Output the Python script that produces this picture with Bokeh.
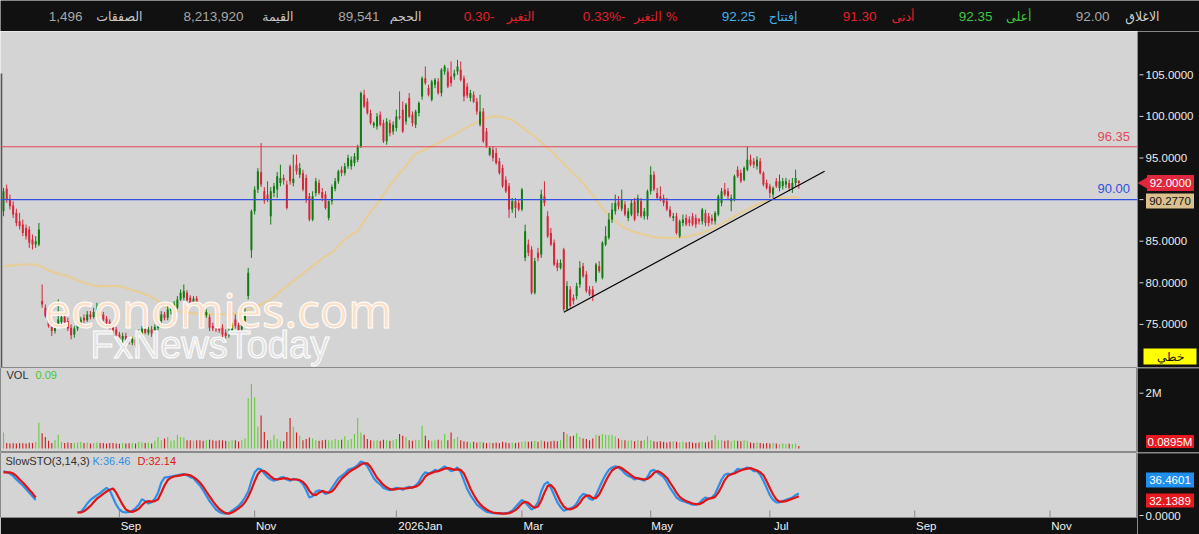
import numpy as np
from bokeh.plotting import figure
from bokeh.models import Range1d, FixedTicker, Span
from bokeh.layouts import column, row
from bokeh.embed import file_html
from bokeh.resources import INLINE
from bokeh.core.properties import value

# ---------------- data ----------------
opens = [
    88.6, 91.3, 90.1, 89.3, 88.4, 87.4, 87.0, 86.6, 86.4, 85.2,
    84.6, 84.6, 77.8, 77.0, 76.3, 75.0, 74.2, 74.9, 75.3, 75.9,
    75.4, 74.6, 73.8, 74.5, 75.0, 75.8, 75.5, 76.2, 75.9, 76.4,
    76.8, 76.2, 75.7, 75.3, 74.8, 74.4, 73.8, 73.2, 73.6, 73.3,
    72.8, 73.2, 72.6, 73.9, 74.5, 74.0, 74.4, 73.9, 74.6, 75.4,
    76.2, 75.8, 76.6, 76.9, 77.0, 78.0, 78.2, 78.8, 78.2, 77.6,
    78.1, 77.4, 76.8, 76.1, 75.9, 74.8, 74.7, 74.6, 74.6, 74.0,
    73.7, 74.3, 75.6, 74.9, 74.4, 75.4, 78.4, 83.9, 88.6, 91.2,
    93.3, 91.0, 90.6, 88.0, 90.8, 91.2, 92.0, 92.6, 91.8, 94.0,
    92.0, 94.2, 93.0, 93.2, 92.6, 90.4, 87.6, 90.8, 92.0, 90.9,
    90.6, 87.8, 89.8, 91.3, 92.2, 93.6, 93.2, 94.0, 94.0, 94.4,
    94.8, 96.4, 102.6, 101.8, 100.4, 98.9, 98.8, 100.2, 99.2, 97.0,
    99.2, 98.2, 98.6, 100.0, 100.8, 99.4, 102.2, 100.2, 99.0, 100.4,
    102.4, 104.6, 103.4, 102.0, 103.8, 104.2, 102.8, 105.4, 105.4, 104.8,
    104.8, 105.4, 105.6, 104.6, 103.6, 102.2, 102.6, 101.8, 99.0, 100.6,
    98.2, 95.4, 96.0, 95.6, 94.6, 93.8, 92.4, 91.6, 88.8, 89.8,
    89.6, 88.8, 83.0, 84.6, 84.0, 78.8, 83.6, 83.4, 90.4, 88.0,
    86.0, 84.8, 82.4, 81.8, 84.0, 76.8, 79.2, 78.2, 78.4, 79.8,
    82.0, 81.0, 79.2, 79.2, 80.2, 82.0, 80.6, 84.6, 85.4, 87.6,
    88.6, 89.8, 88.9, 89.4, 87.8, 88.2, 89.8, 88.4, 89.8, 88.0,
    88.0, 91.0, 93.0, 90.8, 90.4, 90.2, 89.8, 88.8, 87.8, 88.0,
    85.6, 87.2, 87.8, 87.6, 88.0, 87.8, 87.6, 87.4, 88.4, 88.0,
    87.8, 87.4, 88.2, 89.6, 91.2, 91.0, 89.8, 90.0, 93.6, 93.2,
    92.4, 93.6, 94.8, 94.6, 94.0, 94.6, 93.2, 92.0, 91.6, 90.6,
    92.2, 91.4, 91.6, 91.8, 92.0, 91.4, 92.0, 92.25,
]
highs = [
    91.4, 91.8, 90.6, 89.8, 88.9, 88.4, 87.6, 87.0, 86.8, 85.8,
    85.6, 87.2, 79.8, 77.4, 76.6, 75.4, 75.2, 78.0, 76.2, 76.3,
    75.8, 75.0, 74.8, 75.4, 75.9, 76.2, 76.6, 76.6, 77.0, 77.6,
    77.2, 76.5, 76.0, 75.6, 75.2, 74.7, 74.1, 74.0, 74.0, 73.6,
    73.6, 73.5, 74.4, 74.8, 74.9, 74.7, 74.8, 75.0, 75.8, 76.6,
    76.5, 77.2, 77.4, 77.8, 78.4, 79.2, 79.8, 79.1, 78.5, 78.4,
    78.4, 77.6, 77.1, 76.8, 76.2, 75.2, 75.0, 74.9, 75.0, 74.4,
    74.6, 75.2, 76.2, 75.2, 75.8, 77.0, 81.8, 88.8, 91.6, 93.8,
    96.8, 91.5, 92.2, 91.5, 92.0, 93.3, 94.2, 93.0, 92.3, 94.2,
    95.4, 95.4, 94.4, 93.6, 93.0, 90.8, 91.0, 92.6, 92.4, 91.4,
    91.0, 89.9, 91.8, 92.6, 93.6, 94.0, 94.4, 95.4, 95.2, 95.6,
    96.6, 103.0, 103.2, 102.2, 100.8, 99.4, 100.4, 100.6, 99.6, 99.8,
    99.6, 99.4, 100.8, 103.0, 101.8, 101.6, 102.8, 100.6, 100.8, 101.8,
    104.8, 106.0, 103.8, 104.4, 104.6, 104.6, 105.8, 106.2, 105.8, 106.6,
    105.6, 106.8, 106.6, 104.9, 104.0, 103.2, 103.0, 102.2, 102.6, 101.0,
    98.6, 96.4, 96.4, 96.2, 95.0, 94.2, 92.8, 92.0, 90.2, 90.2,
    90.0, 91.4, 87.0, 85.2, 84.4, 83.0, 84.2, 91.2, 92.2, 88.6,
    86.6, 85.2, 82.8, 82.8, 84.2, 80.2, 79.6, 78.6, 80.0, 82.6,
    82.4, 81.4, 79.6, 79.6, 82.4, 82.6, 85.0, 86.8, 88.4, 89.6,
    90.6, 90.4, 91.2, 89.8, 89.0, 90.0, 90.2, 90.6, 90.2, 89.0,
    91.2, 94.0, 93.4, 91.4, 91.6, 90.6, 90.2, 89.2, 88.4, 88.4,
    87.6, 88.2, 88.2, 88.0, 88.4, 88.2, 87.8, 89.0, 88.8, 88.4,
    88.2, 88.6, 90.6, 91.4, 92.0, 91.4, 90.6, 93.0, 94.0, 93.6,
    94.0, 96.4, 95.4, 95.0, 95.2, 95.0, 93.4, 92.4, 91.9, 91.6,
    92.6, 93.0, 92.6, 92.6, 92.4, 92.6, 93.6, 92.35,
]
lows = [
    88.0, 89.6, 88.8, 87.8, 86.8, 86.4, 85.6, 85.2, 84.2, 84.0,
    84.2, 84.4, 77.0, 75.8, 74.6, 73.6, 73.9, 74.6, 75.0, 75.0,
    74.2, 73.2, 73.4, 74.2, 74.7, 75.2, 75.3, 75.6, 75.7, 76.0,
    75.9, 75.4, 74.9, 74.4, 74.0, 73.5, 72.9, 72.8, 73.0, 72.6,
    72.5, 72.2, 72.4, 73.6, 73.8, 73.7, 73.5, 73.6, 74.3, 75.0,
    75.5, 75.5, 76.2, 76.5, 76.8, 77.8, 77.9, 77.6, 77.2, 77.2,
    77.4, 76.4, 75.9, 75.8, 74.2, 74.2, 74.1, 74.0, 73.2, 73.3,
    73.4, 74.0, 74.5, 74.0, 74.2, 75.0, 78.0, 83.0, 88.2, 90.8,
    91.5, 89.5, 89.7, 87.0, 90.3, 90.2, 91.6, 91.8, 88.8, 91.8,
    91.6, 93.0, 92.6, 91.0, 89.6, 87.4, 87.4, 90.4, 90.6, 89.8,
    88.8, 87.5, 89.4, 91.0, 91.9, 92.8, 92.9, 93.7, 93.6, 94.0,
    94.5, 96.2, 101.0, 100.2, 99.0, 98.6, 98.4, 98.8, 96.8, 96.6,
    97.6, 97.8, 98.2, 99.6, 98.0, 99.0, 99.8, 98.8, 98.6, 100.0,
    102.0, 103.8, 102.4, 101.8, 103.4, 102.6, 102.4, 105.0, 103.4, 103.6,
    104.4, 105.0, 104.2, 101.8, 102.2, 101.8, 101.6, 100.2, 98.8, 96.8,
    96.2, 95.2, 94.6, 94.2, 93.0, 91.4, 90.8, 87.8, 88.4, 87.8,
    88.6, 88.6, 82.6, 83.2, 78.6, 78.6, 82.6, 83.0, 89.2, 85.4,
    84.4, 82.0, 81.4, 81.6, 76.6, 76.6, 77.0, 77.4, 78.0, 79.4,
    80.6, 78.8, 78.4, 77.8, 80.0, 81.2, 80.4, 84.4, 85.2, 87.2,
    88.2, 88.8, 88.6, 88.0, 87.4, 88.0, 87.4, 88.0, 87.8, 87.6,
    87.6, 90.6, 91.0, 90.0, 89.8, 89.2, 88.6, 87.8, 87.4, 85.8,
    85.4, 86.8, 86.8, 86.8, 86.8, 86.6, 87.0, 87.0, 86.8, 86.8,
    87.0, 87.0, 88.0, 89.2, 90.4, 90.0, 88.6, 89.8, 92.6, 92.0,
    92.2, 93.4, 94.0, 93.8, 93.6, 93.0, 91.6, 91.2, 90.2, 90.2,
    91.4, 91.0, 91.2, 91.4, 91.0, 90.8, 91.6, 91.30,
]
closes = [
    91.0, 90.0, 89.2, 88.2, 87.2, 86.8, 86.0, 85.6, 84.8, 84.6,
    85.0, 86.4, 77.4, 76.0, 74.8, 74.2, 74.9, 75.6, 75.9, 75.3,
    74.5, 73.7, 74.5, 75.1, 75.6, 75.5, 76.2, 75.9, 76.5, 76.9,
    76.1, 75.6, 75.2, 74.6, 74.3, 73.8, 73.2, 73.6, 73.2, 72.9,
    73.3, 72.5, 74.1, 74.5, 74.0, 74.4, 73.9, 74.7, 75.4, 76.2,
    75.8, 76.8, 77.0, 77.4, 78.0, 78.8, 79.0, 77.9, 77.5, 78.1,
    77.7, 76.7, 76.2, 76.5, 74.6, 74.5, 74.4, 74.3, 73.8, 73.6,
    74.3, 74.9, 74.8, 74.3, 75.4, 76.6, 81.2, 88.6, 91.2, 93.4,
    91.8, 89.9, 90.0, 91.0, 91.6, 92.8, 92.6, 92.3, 89.0, 92.2,
    92.5, 93.4, 93.8, 91.2, 90.0, 87.6, 90.4, 92.2, 90.8, 90.2,
    89.0, 89.8, 91.5, 92.2, 93.4, 93.2, 94.0, 95.0, 94.8, 95.2,
    96.4, 102.8, 101.2, 100.4, 99.2, 99.2, 100.0, 99.0, 97.0, 99.4,
    98.0, 99.0, 100.0, 99.8, 98.2, 101.4, 100.0, 99.2, 100.6, 101.6,
    104.6, 104.0, 102.6, 104.2, 104.4, 102.8, 105.6, 106.0, 103.6, 104.0,
    105.2, 106.0, 104.4, 102.4, 102.5, 102.8, 101.8, 100.6, 100.6, 97.0,
    96.4, 96.2, 95.0, 94.4, 93.2, 91.6, 91.0, 88.8, 89.8, 89.0,
    88.8, 91.2, 86.2, 83.6, 78.8, 82.6, 83.0, 90.6, 89.6, 85.6,
    84.6, 82.2, 81.8, 82.4, 76.8, 79.6, 77.2, 77.8, 79.6, 81.8,
    80.8, 79.0, 78.6, 78.4, 82.2, 81.4, 84.8, 85.6, 87.6, 88.8,
    89.6, 89.2, 90.0, 88.2, 88.6, 89.6, 87.6, 90.2, 88.0, 88.6,
    91.0, 93.0, 91.2, 90.2, 90.0, 89.6, 88.8, 88.0, 88.0, 86.0,
    87.4, 87.6, 87.0, 87.2, 87.0, 87.0, 87.4, 88.8, 87.2, 87.2,
    87.4, 88.4, 90.4, 91.0, 90.6, 90.4, 90.2, 92.8, 92.8, 92.2,
    93.8, 94.8, 94.2, 94.2, 94.8, 93.2, 91.8, 91.4, 90.8, 91.4,
    91.6, 92.2, 92.2, 92.2, 91.4, 92.0, 92.6, 92.00,
]
volume_m = [
    0.58, 0.20, 0.18, 0.19, 0.18, 0.20, 0.19, 0.18, 0.21, 0.20,
    0.24, 0.93, 0.55, 0.42, 0.28, 0.20, 0.30, 0.50, 0.24, 0.20,
    0.22, 0.20, 0.20, 0.22, 0.24, 0.20, 0.22, 0.18, 0.20, 0.22,
    0.20, 0.20, 0.18, 0.20, 0.20, 0.18, 0.17, 0.20, 0.18, 0.19,
    0.20, 0.18, 0.24, 0.22, 0.20, 0.22, 0.18, 0.28, 0.42, 0.30,
    0.36, 0.42, 0.28, 0.30, 0.50, 0.42, 0.40, 0.30, 0.30, 0.28,
    0.30, 0.30, 0.28, 0.30, 0.32, 0.30, 0.28, 0.30, 0.30, 0.28,
    0.26, 0.30, 0.30, 0.25, 0.30, 0.36, 1.82, 2.33, 1.85, 0.80,
    1.19, 0.60, 0.30, 0.32, 0.50, 0.34, 0.28, 0.26, 0.60, 1.10,
    0.79, 0.58, 0.46, 0.30, 0.34, 0.40, 0.36, 0.30, 0.28, 0.30,
    0.32, 0.30, 0.30, 0.34, 0.30, 0.32, 0.44, 0.30, 0.34, 0.52,
    1.10, 0.58, 0.50, 0.34, 0.30, 0.28, 0.30, 0.28, 0.32, 0.30,
    0.28, 0.30, 0.34, 0.52, 0.46, 0.42, 0.30, 0.28, 0.32, 0.30,
    0.82, 0.46, 0.30, 0.28, 0.30, 0.32, 0.30, 0.52, 0.30, 0.58,
    0.34, 0.42, 0.30, 0.26, 0.24, 0.22, 0.24, 0.22, 0.24, 0.22,
    0.20, 0.22, 0.20, 0.22, 0.20, 0.24, 0.22, 0.20, 0.22, 0.20,
    0.22, 0.24, 0.26, 0.24, 0.26, 0.28, 0.24, 0.30, 0.26, 0.24,
    0.26, 0.28, 0.26, 0.30, 0.60, 0.52, 0.44, 0.46, 0.55, 0.42,
    0.36, 0.34, 0.30, 0.36, 0.50, 0.46, 0.52, 0.50, 0.48, 0.50,
    0.44, 0.36, 0.32, 0.30, 0.28, 0.30, 0.26, 0.30, 0.28, 0.30,
    0.44, 0.30, 0.26, 0.24, 0.26, 0.24, 0.22, 0.24, 0.26, 0.24,
    0.22, 0.24, 0.22, 0.24, 0.22, 0.20, 0.22, 0.24, 0.22, 0.24,
    0.30, 0.48, 0.30, 0.32, 0.28, 0.30, 0.26, 0.30, 0.28, 0.26,
    0.30, 0.28, 0.22, 0.20, 0.22, 0.20, 0.18, 0.20, 0.18, 0.20,
    0.18, 0.16, 0.18, 0.16, 0.17, 0.16, 0.18, 0.0895,
]
ma_line = [
    82.0, 82.0, 82.1, 82.1, 82.1, 82.2, 82.2, 82.2, 82.2, 82.2,
    82.2, 82.1, 81.9, 81.7, 81.5, 81.4, 81.2, 81.1, 81.0, 80.9,
    80.8, 80.6, 80.5, 80.3, 80.2, 80.0, 79.9, 79.8, 79.7, 79.6,
    79.6, 79.6, 79.6, 79.6, 79.6, 79.6, 79.6, 79.5, 79.4, 79.3,
    79.1, 79.0, 78.9, 78.8, 78.6, 78.5, 78.3, 78.1, 77.8, 77.5,
    77.2, 77.0, 76.8, 76.7, 76.6, 76.5, 76.5, 76.4, 76.4, 76.3,
    76.3, 76.3, 76.2, 76.2, 76.2, 76.2, 76.2, 76.2, 76.2, 76.2,
    76.2, 76.3, 76.3, 76.4, 76.5, 76.6, 76.7, 76.9, 77.0, 77.2,
    77.4, 77.6, 77.8, 78.0, 78.3, 78.6, 79.0, 79.3, 79.6, 79.9,
    80.2, 80.5, 80.8, 81.1, 81.4, 81.7, 82.0, 82.3, 82.6, 82.9,
    83.2, 83.4, 83.6, 84.0, 84.4, 84.8, 85.2, 85.5, 85.8, 86.0,
    86.2, 86.8, 87.4, 88.0, 88.5, 89.0, 89.5, 90.0, 90.6, 91.1,
    91.7, 92.2, 92.7, 93.2, 93.6, 94.0, 94.5, 95.0, 95.5, 95.7,
    95.9, 96.0, 96.2, 96.4, 96.6, 96.8, 97.0, 97.2, 97.4, 97.6,
    97.8, 98.0, 98.3, 98.5, 98.7, 98.9, 99.1, 99.3, 99.5, 99.7,
    99.8, 99.9, 100.0, 100.0, 100.0, 99.9, 99.8, 99.7, 99.6, 99.3,
    99.0, 98.7, 98.4, 98.1, 97.9, 97.6, 97.2, 96.9, 96.5, 96.2,
    95.9, 95.5, 95.1, 94.7, 94.3, 93.9, 93.5, 93.1, 92.8, 92.4,
    92.0, 91.5, 91.0, 90.5, 90.0, 89.5, 89.0, 88.5, 88.1, 87.7,
    87.4, 87.1, 86.8, 86.6, 86.4, 86.2, 86.1, 86.0, 85.9, 85.8,
    85.7, 85.6, 85.5, 85.5, 85.4, 85.4, 85.4, 85.4, 85.4, 85.4,
    85.5, 85.5, 85.5, 85.6, 85.7, 85.8, 85.9, 86.0, 86.2, 86.3,
    86.5, 86.7, 86.9, 87.1, 87.3, 87.5, 87.8, 88.0, 88.2, 88.4,
    88.6, 88.8, 89.0, 89.2, 89.4, 89.6, 89.7, 89.9, 90.0, 90.1,
    90.1, 90.2, 90.2, 90.2, 90.2, 90.3, 90.3, 90.277,
]
sto_k = [
    74, 72, 70, 66, 60, 55, 50, 44, 38, 32,
    26, None, None, None, None, None, None, None, None, None,
    None, None, None, 5, 6, 12, 20, 26, 30, 34,
    37, 42, 46, 42, 30, 18, 10, 6, 5, 6,
    8, 12, 18, 27, 24, 20, 22, 28, 38, 55,
    63, 64, 65, 66, 67, 68, 69, 67, 64, 62,
    56, 50, 42, 33, 24, 17, 10, 6, 4, 3,
    4, 8, 12, 16, 22, 30, 40, 58, 72, 78,
    77, 70, 64, 60, 58, 60, 63, 64, 60, 58,
    61, 60, 58, 52, 42, 30, 32, 40, 42, 40,
    36, 38, 46, 54, 62, 66, 70, 76, 78, 80,
    84, 90, 88, 82, 72, 62, 56, 52, 46, 44,
    42, 44, 46, 45, 43, 46, 48, 46, 50, 56,
    66, 72, 70, 72, 76, 74, 78, 82, 78, 74,
    76, 80, 72, 58, 44, 34, 26, 18, 14, 10,
    6, 5, 4, 4, 3, 3, 4, 5, 8, 14,
    20, 26, 22, 16, 10, 14, 22, 40, 52, 56,
    46, 34, 22, 14, 8, 10, 12, 14, 20, 30,
    36, 34, 28, 26, 34, 46, 58, 68, 76, 80,
    82, 80, 76, 70, 66, 64, 60, 62, 60, 58,
    64, 74, 76, 72, 68, 64, 56, 46, 38, 30,
    26, 24, 22, 20, 18, 18, 20, 26, 30, 28,
    30, 36, 48, 60, 68, 70, 68, 72, 78, 76,
    78, 80, 78, 74, 74, 68, 58, 46, 34, 26,
    22, 22, 24, 26, 28, 30, 34, 36.46,
]
sto_d = [
    72, 72, 72, 70, 66, 60, 55, 49, 43, 37,
    30, None, None, None, None, None, None, None, None, None,
    None, None, None, 5, 5, 7, 11, 16, 22, 28,
    32, 36, 40, 43, 45, 38, 28, 18, 10, 7,
    6, 8, 11, 17, 22, 24, 23, 24, 27, 38,
    50, 59, 63, 65, 66, 67, 68, 68, 67, 64,
    60, 55, 48, 40, 32, 24, 17, 11, 7, 4,
    3, 5, 8, 12, 16, 22, 31, 43, 57, 69,
    75, 74, 70, 65, 61, 60, 61, 62, 62, 60,
    60, 60, 59, 56, 50, 41, 35, 34, 38, 41,
    39, 38, 40, 46, 54, 61, 66, 71, 75, 78,
    81, 85, 87, 87, 81, 72, 63, 57, 51, 47,
    44, 43, 44, 45, 45, 45, 46, 47, 48, 51,
    57, 65, 69, 71, 73, 74, 76, 78, 79, 78,
    76, 77, 76, 70, 58, 45, 35, 26, 19, 14,
    10, 7, 5, 4, 4, 3, 3, 4, 6, 9,
    14, 20, 23, 21, 16, 13, 15, 25, 38, 49,
    51, 45, 34, 23, 15, 11, 10, 12, 15, 21,
    29, 33, 33, 29, 29, 35, 46, 57, 67, 75,
    79, 81, 79, 75, 71, 67, 63, 62, 61, 60,
    61, 65, 71, 74, 72, 68, 63, 55, 47, 38,
    31, 27, 24, 22, 20, 19, 19, 21, 25, 28,
    29, 31, 38, 48, 59, 66, 69, 70, 73, 75,
    77, 78, 79, 77, 75, 72, 67, 57, 46, 35,
    27, 23, 23, 24, 26, 28, 30, 32.14,
]
month_ticks = [36, 78, 122, 161, 201, 238, 283, 325]
month_labels = ["Sep", "Nov", "2026Jan", "Mar", "May", "Jul", "Sep", "Nov"]
price_ticks = [75, 80, 85, 90, 95, 100, 105]
resistance = 96.35
support = 90.00
trend_x = [174, 255]
trend_y = [76.45, 93.4]
last_close, last_ma, last_vol, last_k, last_d = 92.0, 90.2770, 0.0895, 36.4601, 32.1389

hdr_labels = ["الاغلاق", "أعلى", "أدنى", "إفتتاح", "التغير %", "التغير", "الحجم", "القيمة", "الصفقات"]
hdr_values = ["92.00", "92.35", "91.30", "92.25", "\u200f-0.33%", "\u200f-0.30", "89,541", "8,213,920", "1,496"]

# ---------------- styling / geometry ----------------
FONT = "Liberation Sans"
BG = "#d4d4d4"
DARK = "#111111"
GREEN = "#0f7d12"
RED = "#d6263a"
VGREEN = "#62cf36"
VRED = "#d21a1a"

BAR_PX = 3.22
X0 = -0.93
FRAME_W = 1137
SIDE_W = 62


def px2i(px):
    return X0 + px / BAR_PX


def price_at(py):
    return 105 - (py - 74.3) / 8.32


def vol_at(py):
    return (448 - py) / 27.65


def sto_at(py):
    return (515 - py) / 0.6


xr = Range1d(X0, px2i(FRAME_W))

N = len(closes)
idx = np.arange(N)
o = np.array(opens, dtype=float)
h = np.array(highs, dtype=float)
l = np.array(lows, dtype=float)
c = np.array(closes, dtype=float)
up = c >= o
ccol = np.where(up, GREEN, RED).tolist()
vcol = np.where(up, VGREEN, VRED).tolist()
k_arr = np.array([np.nan if v is None else v for v in sto_k], dtype=float)
d_arr = np.array([np.nan if v is None else v for v in sto_d], dtype=float)


def main_panel(fh, yr, bottom=0, xaxis=False):
    f = figure(frame_width=FRAME_W, frame_height=fh, x_range=xr, y_range=yr,
               toolbar_location=None, output_backend="svg", y_axis_location=None,
               x_axis_location="below" if xaxis else None,
               min_border_left=0, min_border_right=0, min_border_top=0, min_border_bottom=bottom,
               background_fill_color=BG, border_fill_color=DARK)
    f.grid.visible = False
    return f


def side_panel(fh, yr, sep_at=None):
    f = figure(frame_width=SIDE_W, frame_height=fh, x_range=Range1d(0, SIDE_W), y_range=yr,
               toolbar_location=None, output_backend="svg", x_axis_location=None,
               y_axis_location=None, min_border=0,
               background_fill_color=DARK, border_fill_color=DARK, outline_line_color=None)
    f.grid.visible = False
    if sep_at is not None:
        f.add_layout(Span(location=sep_at, dimension="width", line_color="#8a8a8a", line_width=2))
    return f


def side_ticks(f, ticks, labels):
    f.segment(x0=[2] * len(ticks), y0=ticks, x1=[6] * len(ticks), y1=ticks,
              line_color="#d8d8d8", line_width=1)
    f.text(x=[8] * len(ticks), y=ticks, text=labels, text_align="left", text_baseline="middle",
           text_color="#ececec", text_font=value(FONT), text_font_size="11.5px")


def tag(f, y, text, bg, fg="white", w=48, hgt=15, cx=32.5):
    f.rect(x=[cx], y=[y], width=w, height=hgt, width_units="screen", height_units="screen",
           fill_color=bg, line_color=None)
    f.text(x=[cx], y=[y], text=[text], text_align="center", text_baseline="middle",
           text_color=fg, text_font=value(FONT), text_font_size="11.5px")


# ---------------- header bar ----------------
top = figure(width=1199, height=31, x_range=Range1d(0, 1199), y_range=Range1d(0, 31),
             toolbar_location=None, output_backend="svg", x_axis_location=None,
             y_axis_location=None, min_border=0, background_fill_color=DARK,
             border_fill_color=DARK, outline_line_color=None)
top.grid.visible = False
lab_right = [1159, 1031, 914, 797, 677, 534, 421, 293, 142]
val_right = [1109, 992, 876, 755, 625, 494, 379, 243, 82]
lab_col = ["#d0d0d0", "#3ec43e", "#e0202a", "#45b2ea", "#e0202a", "#e0202a", "#c8c8c8", "#c8c8c8", "#c8c8c8"]
val_col = ["#a8a8a8", "#3ec43e", "#e0202a", "#45b2ea", "#e0202a", "#e0202a", "#a8a8a8", "#a8a8a8", "#a8a8a8"]
top.text(x=lab_right, y=[15] * 9, text=hdr_labels, text_align="right", text_baseline="middle",
         text_color=lab_col, text_font=value("DejaVu Sans"), text_font_size="12.5px")
top.text(x=val_right, y=[15] * 9, text=hdr_values, text_align="right", text_baseline="middle",
         text_color=val_col, text_font=value(FONT), text_font_size="13.5px")

# ---------------- price panel ----------------
pyr = Range1d(price_at(367), price_at(31))
p = main_panel(336, pyr)
p.outline_line_color = None

p.line(idx, ma_line, line_color="#e8cc94", line_width=2.2, line_alpha=0.95)
p.add_layout(Span(location=resistance, dimension="width", line_color="#e2475a", line_width=1.2))
p.add_layout(Span(location=support, dimension="width", line_color="#2f50e0", line_width=1.2))
p.segment(x0=idx, y0=l, x1=idx, y1=h, line_color=ccol, line_width=1)
p.vbar(x=idx, width=0.62, top=np.maximum(o, c), bottom=np.minimum(o, c),
       fill_color=ccol, line_color=None)
p.line(trend_x, trend_y, line_color="black", line_width=1.2)
p.segment(x0=[px2i(0.8)], y0=[price_at(73)], x1=[px2i(0.8)], y1=[price_at(367)],
          line_color="#555555", line_width=2)

p.text(x=[px2i(1097)], y=[price_at(136)], text=[f"{resistance:.2f}"], text_color="#e2475a",
       text_font=value(FONT), text_font_size="13px", text_baseline="middle")
p.text(x=[px2i(1097)], y=[price_at(188)], text=[f"{support:.2f}"], text_color="#2f50e0",
       text_font=value(FONT), text_font_size="13px", text_baseline="middle")

# watermark
p.text(x=[px2i(44)], y=[price_at(309)], text=["economies.com"], text_color="#fde0c8",
       text_outline_color="white", text_font=value("Noto Sans"), text_font_size="47px",
       text_baseline="middle")
p.text(x=[px2i(90)], y=[price_at(344)], text=["FxNewsToday"], text_color="#e2e2e2",
       text_outline_color="white", text_font=value(FONT), text_font_size="38px",
       text_baseline="middle")

ps = side_panel(336, pyr)
side_ticks(ps, price_ticks, [f"{t:.4f}" for t in price_ticks])
ps.scatter(x=[7], y=[last_close], marker="triangle", size=12, angle=np.pi / 2,
           fill_color="#e0283c", line_color=None)
tag(ps, last_close, f"{last_close:.4f}", "#e0283c", w=47, hgt=16, cx=33)
tag(ps, price_at(200.5), f"{last_ma:.4f}", "#d9c08e", fg="#111111")
tag(ps, price_at(356), "خطي", "#ffff00", fg="#111111", w=53, hgt=16, cx=32.5)

# ---------------- volume panel ----------------
vyr = Range1d(vol_at(452), vol_at(367))
v = main_panel(85, vyr)
v.outline_line_color = "#8a8a8a"
v.vbar(x=idx, width=0.34, top=volume_m, bottom=0, fill_color=vcol, line_color=None)
v.text(x=[px2i(6)], y=[vol_at(374)], text=["VOL"], text_color="#303030",
       text_font=value(FONT), text_font_size="11px", text_baseline="middle")
v.text(x=[px2i(35)], y=[vol_at(374)], text=[f"{last_vol:.2f}"], text_color="#4cc72c",
       text_font=value(FONT), text_font_size="11px", text_baseline="middle")

vs = side_panel(85, vyr, sep_at=vyr.end)
side_ticks(vs, [2], ["2M"])
tag(vs, vol_at(441), f"{last_vol:.4f}M", "#e8191e", hgt=13)

# ---------------- stochastic panel ----------------
syr = Range1d(sto_at(517), sto_at(452))
s = main_panel(65, syr, bottom=17, xaxis=True)
s.outline_line_color = "#8a8a8a"
s.line(idx, k_arr, line_color="#2f8fe8", line_width=2.2)
s.line(idx, d_arr, line_color="#e01414", line_width=2.2)
s.text(x=[px2i(5)], y=[sto_at(460)], text=["SlowSTO(3,14,3)"], text_color="#303030",
       text_font=value(FONT), text_font_size="11px", text_baseline="middle")
s.text(x=[px2i(92)], y=[sto_at(460)], text=[f"K:{last_k:.2f}"], text_color="#2f8fe8",
       text_font=value(FONT), text_font_size="11px", text_baseline="middle")
s.text(x=[px2i(137)], y=[sto_at(460)], text=[f"D:{last_d:.2f}"], text_color="#e01414",
       text_font=value(FONT), text_font_size="11px", text_baseline="middle")

# month-start tick marks (inside the panel), labels written just right of them
s.segment(x0=month_ticks, y0=[syr.start] * len(month_ticks), x1=month_ticks,
          y1=[sto_at(510)] * len(month_ticks), line_color="#8a8a8a", line_width=1)
CHAR_PX = 6.3
label_pos = [t + (2 + len(lab) * CHAR_PX / 2) / BAR_PX for t, lab in zip(month_ticks, month_labels)]
xa = s.xaxis[0]
xa.ticker = FixedTicker(ticks=label_pos)
xa.major_label_overrides = {pos: lab for pos, lab in zip(label_pos, month_labels)}
xa.axis_line_color = None
xa.major_tick_line_color = None
xa.major_tick_in = 0
xa.major_tick_out = 0
xa.minor_tick_line_color = None
xa.minor_tick_in = 0
xa.minor_tick_out = 0
xa.major_label_text_color = "#f2f2f2"
xa.major_label_text_font = FONT
xa.major_label_text_font_size = "11.5px"
xa.major_label_standoff = 2

# side of the stochastic panel also covers the date strip below it
ss_yr = Range1d(sto_at(534), sto_at(452))
ss = side_panel(82, ss_yr, sep_at=sto_at(452))
side_ticks(ss, [0], ["0.0000"])
tag(ss, sto_at(479.5), f"{last_k:.4f}", "#1e8ff0")
tag(ss, sto_at(500), f"{last_d:.4f}", "#e8191e", hgt=14)

layout = column(top, row(p, ps, spacing=0), row(v, vs, spacing=0), row(s, ss, spacing=0), spacing=0)
open("out.html", "w").write(file_html(layout, INLINE))
